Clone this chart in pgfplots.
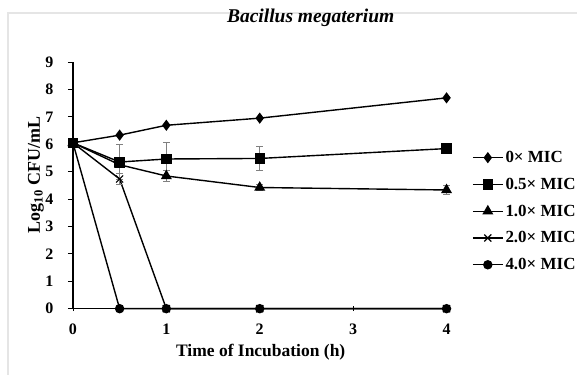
\documentclass[border=0pt]{standalone}
\usepackage{fontspec}
\setmainfont{Liberation Serif}
\usepackage{pgfplots}
\pgfplotsset{compat=1.18}
\begin{document}
\begin{tikzpicture}[x=1pt,y=1pt]
\path (0,0) rectangle (578,375);
\draw[color=black!10, line width=1.2pt] (8,0) -- (8,362) -- (578,362);
\begin{axis}[
  at={(73pt,66pt)}, anchor=south west,
  scale only axis, width=374pt, height=247pt,
  xmin=0, xmax=4, ymin=0, ymax=9,
  axis x line=bottom, axis y line=left,
  axis line style={-, line width=1.5pt},
  xtick={0,1,2,3,4}, ytick={0,1,...,9},
  tick align=outside, major tick length=5pt,
  tick style={line width=0.8pt, black},
  xtick style={yshift=2.5pt},
  /pgf/number format/assume math mode=true,
  ticklabel style={font=\fontsize{16}{18}\selectfont\bfseries},
  yticklabel style={xshift=-11pt},
  xticklabel style={yshift=-7pt},
  clip=false,
  every axis plot/.append style={line width=1.4pt, black},
  legend style={draw=none, at={(1.068,0.655)}, anchor=north west,
    font=\fontsize{17}{19}\selectfont\bfseries, row sep=10pt,
    inner xsep=0pt, cells={anchor=west}},
  legend image post style={line width=1.4pt},
  legend image code/.code={\draw[#1] (0pt,0pt) -- (30pt,0pt); \path[#1] plot coordinates {(15pt,0pt)};},
  error bars/error bar style={gray, line width=0.8pt},
  error bars/error mark options={gray, rotate=90, mark size=3.5pt, line width=0.8pt},
]
\addplot[mark=diamond*, mark size=4.5pt] coordinates {(0,6.05) (0.5,6.33) (1,6.69) (2,6.95) (4,7.69)};
\addlegendentry{0× MIC}
\addplot[mark=square*, mark size=4.5pt,
  error bars/.cd, y dir=both, y explicit] coordinates {
  (0,6.05) +- (0,0) (0.5,5.35) +- (0,0.65) (1,5.46) +- (0,0.6) (2,5.48) +- (0,0.45) (4,5.84) +- (0,0.05)};
\addlegendentry{0.5× MIC}
\addplot[mark=triangle*, mark size=5pt,
  error bars/.cd, y dir=both, y explicit] coordinates {
  (0,6.05) +- (0,0) (0.5,5.25) +- (0,0.1) (1,4.84) +- (0,0.2) (2,4.42) +- (0,0.1) (4,4.33) +- (0,0.15)};
\addlegendentry{1.0× MIC}
\addplot[mark=x, mark size=5pt, mark options={line width=1.2pt},
  error bars/.cd, y dir=both, y explicit] coordinates {
  (0,6.05) +- (0,0) (0.5,4.73) +- (0,0.2) (1,0) +- (0,0) (2,0) +- (0,0) (4,0) +- (0,0)};
\addlegendentry{2.0× MIC}
\addplot[mark=*, mark size=4pt] coordinates {(0,6.05) (0.5,0) (1,0) (2,0) (4,0)};
\addlegendentry{4.0× MIC}
\end{axis}
\node[font=\fontsize{19.5}{22}\selectfont\bfseries\itshape] at (311,357) {Bacillus megaterium};
\node[font=\fontsize{17.5}{20}\selectfont\bfseries] at (261,22) {Time of Incubation (h)};
\node[font=\fontsize{18}{21}\selectfont\bfseries, rotate=90] at (36,200) {Log$_{\mathbf{10}}$ CFU/mL};
\end{tikzpicture}
\end{document}
